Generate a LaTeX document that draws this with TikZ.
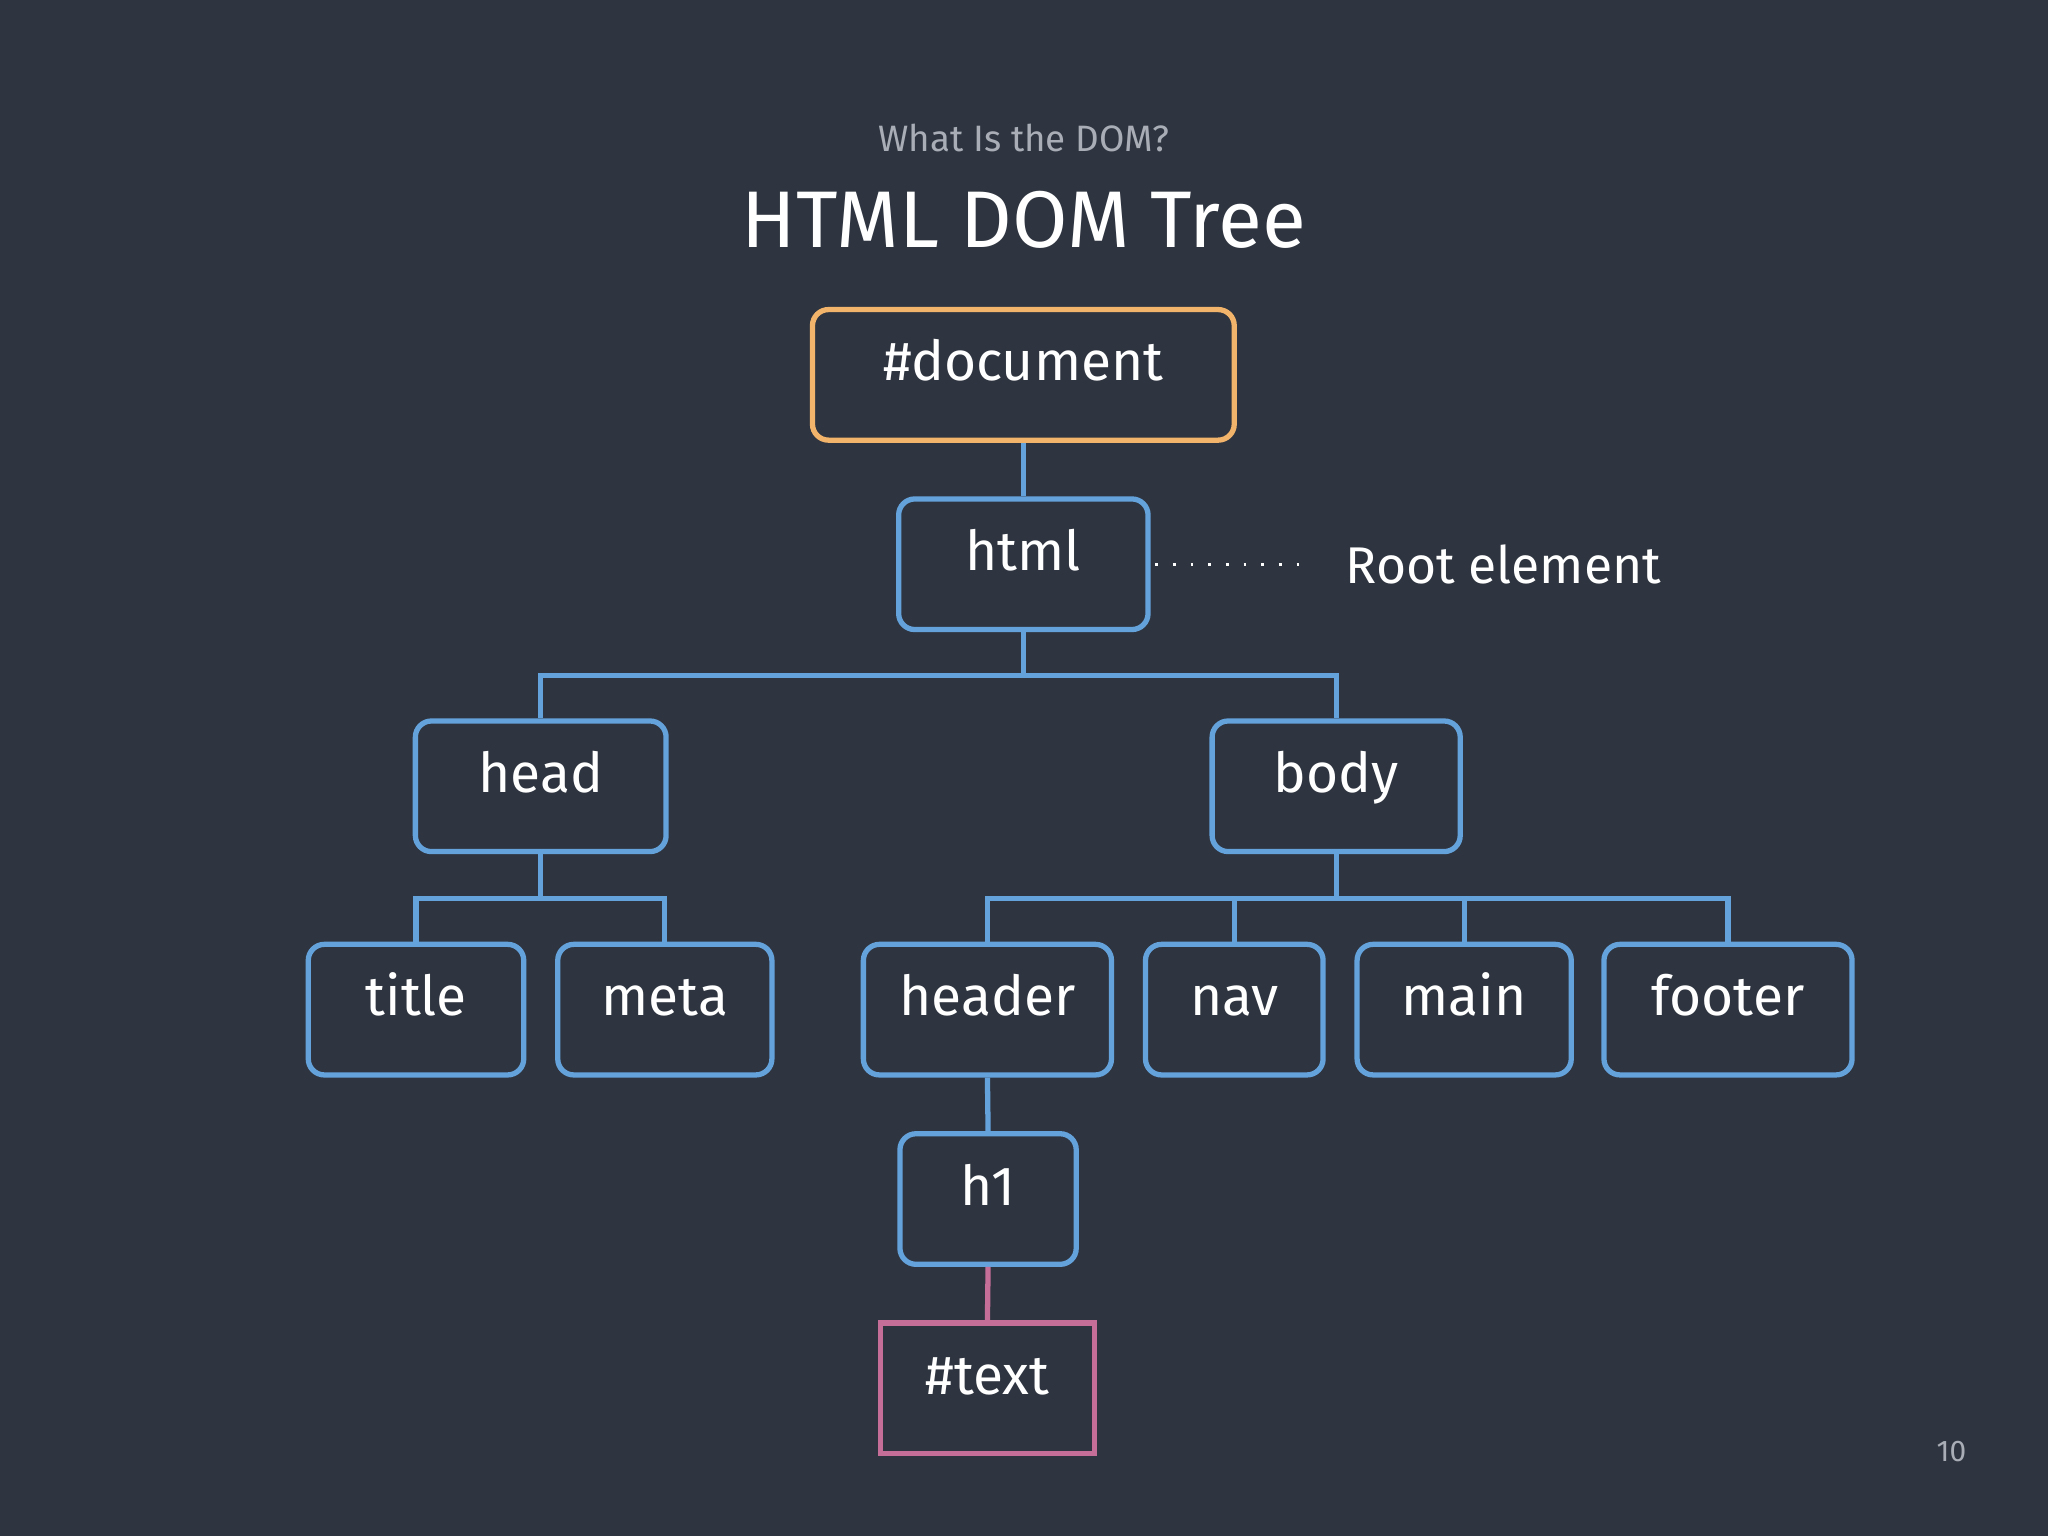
\documentclass[tikz,border=0pt]{standalone}
\usepackage{fontspec}
\setmainfont{Fira Sans}
\definecolor{bg}{HTML}{2F3540}
\definecolor{bl}{HTML}{64A2DC}
\definecolor{orng}{HTML}{F2B46A}
\definecolor{pnk}{HTML}{C46E98}
\definecolor{sub}{HTML}{A8ADB6}
\begin{document}
\begin{tikzpicture}[x=0.02cm,y=-0.02cm,
  box/.style={draw=bl,line width=2.3pt,rounded corners=7pt,minimum height=2cm,inner sep=0pt,text=white,text height=0.75em,text depth=0.22em,font=\fontsize{24}{28}\selectfont},
  conn/.style={draw=bl,line width=2.3pt}]
\fill[bg] (0,0) rectangle (1568,1176);
\useasboundingbox (0,0) rectangle (1568,1176);
\node[text=sub,font=\fontsize{16}{18}\selectfont] (st) at (784,106) {What Is the DOM?};
\node[text=white,font=\fontsize{35}{40}\selectfont] (tt) at (784,168) {HTML DOM Tree};
\node[box,draw=orng,minimum width=6.46cm] (doc) at (783.5,287) {\#document};
\node[box,minimum width=3.82cm] (html) at (783.5,432) {html};
\node[box,minimum width=3.84cm] (head) at (414,602) {head};
\node[box,minimum width=3.8cm] (body) at (1023,602) {body};
\node[box,minimum width=3.3cm] (title) at (318.5,773) {title};
\node[box,minimum width=3.28cm] (meta) at (509,773) {meta};
\node[box,minimum width=3.8cm] (header) at (756,773) {header};
\node[box,minimum width=2.72cm] (nav) at (945,773) {nav};
\node[box,minimum width=3.28cm] (main) at (1121,773) {main};
\node[box,minimum width=3.8cm] (footer) at (1323,773) {footer};
\node[box,minimum width=2.7cm] (h1) at (756.5,918) {h1};
\node[box,draw=pnk,rounded corners=0pt,minimum width=3.28cm] (txt) at (756,1063) {\#text};
\node[text=white,anchor=west,font=\fontsize{22.5}{26}\selectfont] (root) at (1024,432) {Root element};
\node[text=sub,font=\fontsize{13}{15}\selectfont] (pg) at (1494,1111) {10};
\coordinate (dotend) at (1002,432);
\draw[white,line width=1.2pt,dash pattern=on 1.2pt off 6.5pt] ([xshift=2pt]html.east) -- (dotend);
\begin{scope}[conn]
\draw (doc.south) -- (html.north);
\draw (html.south) -- (html.south |- 0,517);
\draw (head.north) |- (html.south |- 0,517) -| (body.north);
\draw (head.south) -- (head.south |- 0,688);
\draw (title.north) |- (head.south |- 0,688) -| (meta.north);
\draw (body.south) -- (body.south |- 0,688);
\draw (header.north) |- (body.south |- 0,688) -| (footer.north);
\draw (nav.north) -- (nav.north |- 0,688);
\draw (main.north) -- (main.north |- 0,688);
\draw (header.south) -- (h1.north);
\end{scope}
\draw[draw=pnk,line width=2.3pt] (h1.south) -- (txt.north);
\end{tikzpicture}
\end{document}
